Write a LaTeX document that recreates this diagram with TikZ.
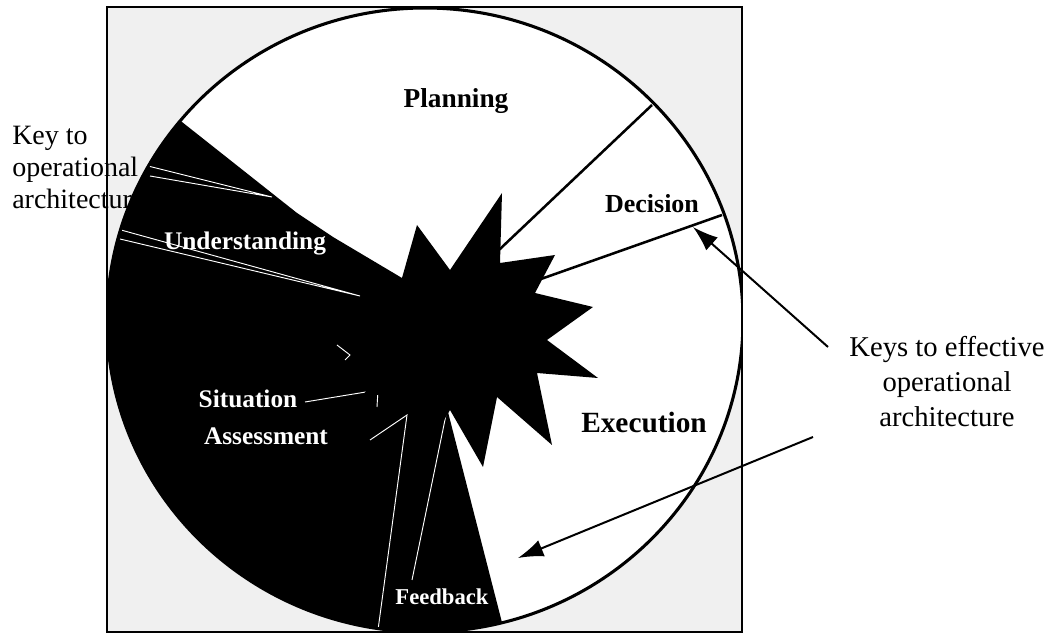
\documentclass[tikz,border=0pt]{standalone}
\usepackage{fontspec}
\setmainfont{Liberation Serif}
\usetikzlibrary{arrows.meta}
\begin{document}
\begin{tikzpicture}[x=0.75pt,y=-0.75pt,
  framebg/.style={fill=black!6},
  pieline/.style={line width=1.9pt},
  rimline/.style={line width=2.3pt},
  keyarrow/.style={line width=1.5pt,-{Latex[length=19pt,width=13pt]}},
  hatch/.style={draw=white,line width=0.7pt},
  slicelabel/.style={font=\fontsize{19}{22}\selectfont\bfseries,text=white,inner sep=0pt},
  mainlabel/.style={inner sep=0pt},
  note/.style={inner sep=0pt,font=\fontsize{21}{24}\selectfont}]
\useasboundingbox (0,0) rectangle (1051,634);

% framed background
\fill[framebg] (107,7) rectangle (742,632);

% left note
\node[note,align=left,anchor=north west] (keyleft) at (12,126) {Key to\\operational\\architecture};

\begin{scope}
\clip (107,7) rectangle (742,632);
\fill[white] (425,320) ellipse [x radius=238.5pt, y radius=234pt];
\begin{scope}
\clip (425,320) ellipse [x radius=238.5pt, y radius=234pt];
% dark sector (understanding, situation assessment, feedback)
\fill[black] (402,278) -- (333,237) -- (297,213) -- (182,122) -- (120,73) -- (0,73)
   -- (0,700) -- (527,720) -- (448,412) -- (450,350) -- cycle;
% faint white slice outlines
\draw[hatch] (148,166) -- (272,197) -- (150,176);
\draw[hatch] (121,230) -- (360,296) -- (120,239);
\draw[hatch] (305,402) -- (378,390) -- (377,407);
\draw[hatch] (370,440) -- (407,415) -- (378,630);
\draw[hatch] (337,345) -- (350,355) -- (345,360);
\draw[hatch] (447,410) -- (412,580);
% slice labels
\node[slicelabel,anchor=base] (under) at (245,250) {Understanding};
\node[slicelabel,anchor=base] (situ) at (248,408) {Situation};
\node[slicelabel,anchor=base] (assess) at (266,445) {Assessment};
\node[slicelabel,font=\fontsize{17}{20}\selectfont\bfseries,anchor=base] (feed) at (442,605) {Feedback};
\end{scope}
% pie boundaries
\coordinate (ctr) at (425,320);
\coordinate (pd) at (652,105);
\coordinate (de) at (722,215);
\draw[pieline] (ctr) -- (pd);
\draw[pieline] (ctr) -- (de);
% starburst
\fill[black] (417,225) -- (450,270) -- (502,193) -- (500,263) -- (555,255) -- (535,293)
  -- (593,307) -- (547,340) -- (598,378) -- (537,373) -- (552,445) -- (497,397)
  -- (483,467) -- (450,410) -- (420,460) -- (412,385) -- (360,400) -- (400,340)
  -- (350,310) -- (402,278) -- cycle;
% rim
\draw[rimline] (425,320) ellipse [x radius=238.5pt, y radius=234pt];
\end{scope}
\draw[line width=1.6pt] (107,7) rectangle (742,632);

% main slice labels
\node[mainlabel,font=\fontsize{20.5}{24}\selectfont\bfseries,anchor=base] (plan) at (456,108) {Planning};
\node[mainlabel,font=\fontsize{19.5}{22}\selectfont\bfseries,anchor=base] (dec) at (652,213) {Decision};
\node[mainlabel,font=\fontsize{22}{26}\selectfont\bfseries,anchor=base] (exe) at (644,433) {Execution};

% right note and arrows
\node[note,align=center,anchor=north,font=\fontsize{21.5}{26.25}\selectfont] (keyright) at (947,336) {Keys to effective\\operational\\architecture};
\coordinate (a1s) at (828,347);
\coordinate (a1t) at (693,227);
\coordinate (a2s) at (813,437);
\coordinate (a2t) at (518,558);
\draw[keyarrow] (a1s) -- (a1t);
\draw[keyarrow] (a2s) -- (a2t);
\end{tikzpicture}
\end{document}
